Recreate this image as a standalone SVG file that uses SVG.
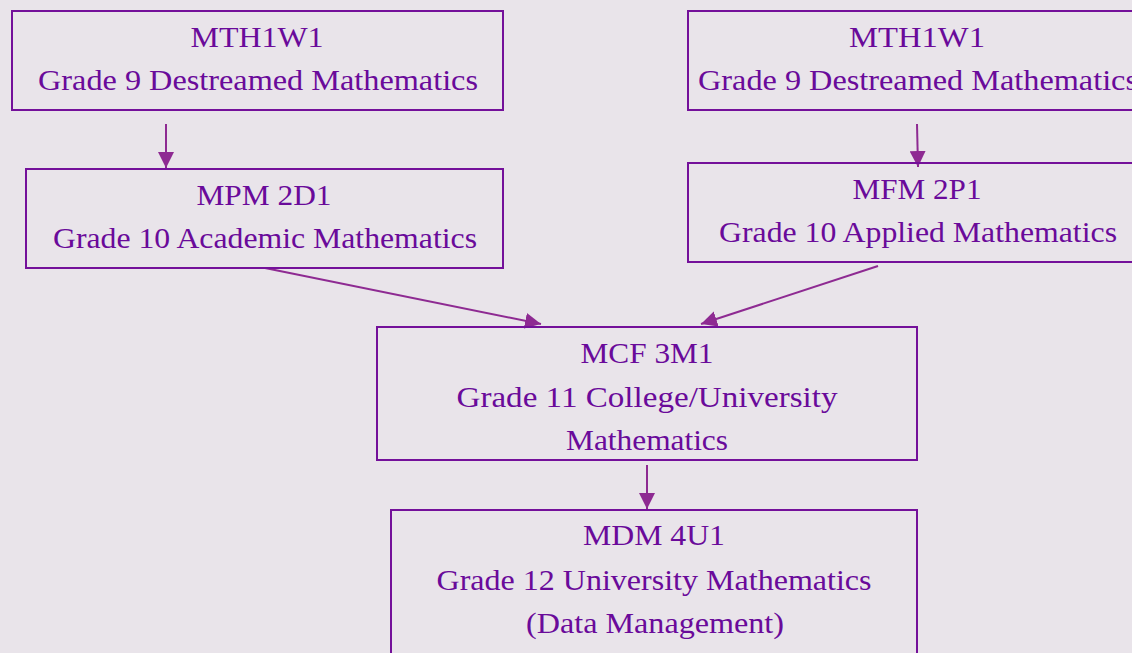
<svg xmlns="http://www.w3.org/2000/svg" width="1132" height="653" viewBox="0 0 1132 653">
<defs>
<marker id="ah" viewBox="0 0 16 16" refX="16" refY="8" markerWidth="16" markerHeight="16" markerUnits="userSpaceOnUse" orient="auto">
<path d="M0,0 L16,8 L0,16 z" fill="#8e2a92"/>
</marker>
<style>
.box{fill:none;stroke:#74109a;stroke-width:2}
.t{font-family:"Liberation Serif","Times New Roman",serif;font-size:30px;fill:#6a0a9a;text-anchor:middle}
.c{stroke:#8e2a92;stroke-width:2;fill:none;marker-end:url(#ah)}
</style>
</defs>
<rect width="1132" height="653" fill="#e9e4ea"/>
<g id="connectors">
<line class="c" x1="166" y1="124" x2="166" y2="168"/>
<line class="c" x1="917" y1="124" x2="918" y2="167"/>
<line class="c" x1="265" y1="268" x2="541" y2="324"/>
<line class="c" x1="878" y1="266" x2="701" y2="324"/>
<line class="c" x1="647" y1="465" x2="647" y2="509"/>
</g>
<g id="mth1w1-left">
<rect class="box" x="12" y="11" width="491" height="99"/>
<text class="t" x="257" y="47" textLength="133" lengthAdjust="spacingAndGlyphs">MTH1W1</text>
<text class="t" x="258" y="90" textLength="440" lengthAdjust="spacingAndGlyphs">Grade 9 Destreamed Mathematics</text>
</g>
<g id="mpm2d1">
<rect class="box" x="26" y="169" width="477" height="99"/>
<text class="t" x="264" y="205" textLength="135" lengthAdjust="spacingAndGlyphs">MPM 2D1</text>
<text class="t" x="265" y="248" textLength="424" lengthAdjust="spacingAndGlyphs">Grade 10 Academic Mathematics</text>
</g>
<g id="mth1w1-right">
<rect class="box" x="688" y="11" width="458" height="99"/>
<text class="t" x="917" y="47" textLength="136" lengthAdjust="spacingAndGlyphs">MTH1W1</text>
<text class="t" x="918" y="90" textLength="440" lengthAdjust="spacingAndGlyphs">Grade 9 Destreamed Mathematics</text>
</g>
<g id="mfm2p1">
<rect class="box" x="688" y="163" width="458" height="99"/>
<text class="t" x="917" y="199" textLength="129" lengthAdjust="spacingAndGlyphs">MFM 2P1</text>
<text class="t" x="918" y="242" textLength="398" lengthAdjust="spacingAndGlyphs">Grade 10 Applied Mathematics</text>
</g>
<g id="mcf3m1">
<rect class="box" x="377" y="327" width="540" height="133"/>
<text class="t" x="647" y="363" textLength="133" lengthAdjust="spacingAndGlyphs">MCF 3M1</text>
<text class="t" x="647" y="407" textLength="381" lengthAdjust="spacingAndGlyphs">Grade 11 College/University</text>
<text class="t" x="647" y="450" textLength="162" lengthAdjust="spacingAndGlyphs">Mathematics</text>
</g>
<g id="mdm4u1">
<rect class="box" x="391" y="510" width="526" height="160"/>
<text class="t" x="654" y="545" textLength="142" lengthAdjust="spacingAndGlyphs">MDM 4U1</text>
<text class="t" x="654" y="590" textLength="435" lengthAdjust="spacingAndGlyphs">Grade 12 University Mathematics</text>
<text class="t" x="655" y="633" textLength="258" lengthAdjust="spacingAndGlyphs">(Data Management)</text>
</g>
</svg>
